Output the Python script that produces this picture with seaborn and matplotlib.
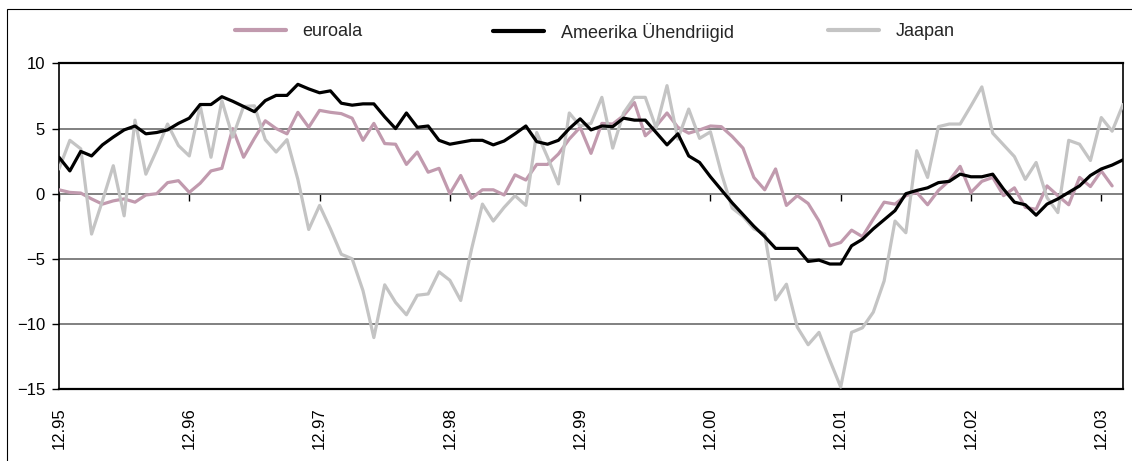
import pandas as pd
import matplotlib.pyplot as plt
from matplotlib.lines import Line2D
from matplotlib.patches import Rectangle
import seaborn as sns

# kuised väärtused, 12.95 ... 02.04
euroala = [0.3, 0.1, 0.05, -0.4, -0.8, -0.55, -0.4, -0.65, -0.1, 0.0,
           0.85, 1.0, 0.1, 0.8, 1.75, 1.95, 5.0, 2.8, 4.25, 5.6,
           5.0, 4.6, 6.25, 5.1, 6.4, 6.25, 6.15, 5.8, 4.1, 5.4,
           3.85, 3.8, 2.25, 3.2, 1.65, 1.95, 0.0, 1.4, -0.35, 0.3,
           0.3, -0.1, 1.45, 1.05, 2.25, 2.25, 3.05, 4.2, 5.1, 3.1,
           5.4, 5.35, 6.0, 7.0, 4.45, 5.2, 6.2, 5.1, 4.65, 4.9,
           5.2, 5.15, 4.4, 3.5, 1.25, 0.3, 1.9, -0.9, -0.15, -0.75,
           -2.1, -4.0, -3.75, -2.8, -3.3, -1.95, -0.65, -0.8, -0.15, 0.1,
           -0.85, 0.25, 1.0, 2.1, 0.1, 0.95, 1.25, -0.15, 0.45, -1.05,
           -1.2, 0.6, -0.15, -0.85, 1.25, 0.55, 1.75, 0.6]

usa = [2.8, 1.75, 3.25, 2.9, 3.75, 4.35, 4.9, 5.2, 4.6, 4.7,
       4.9, 5.4, 5.8, 6.85, 6.85, 7.45, 7.1, 6.7, 6.3, 7.15,
       7.55, 7.55, 8.4, 8.05, 7.75, 7.9, 6.95, 6.8, 6.9, 6.9,
       5.9, 5.0, 6.2, 5.1, 5.2, 4.1, 3.8, 3.95, 4.1, 4.1,
       3.75, 4.05, 4.6, 5.2, 4.0, 3.8, 4.1, 5.0, 5.75, 4.9,
       5.2, 5.15, 5.8, 5.65, 5.65, 4.7, 3.75, 4.6, 2.9, 2.4,
       1.3, 0.3, -0.7, -1.6, -2.5, -3.3, -4.2, -4.2, -4.2, -5.2,
       -5.1, -5.4, -5.4, -4.0, -3.5, -2.7, -2.0, -1.3, 0.0, 0.25,
       0.45, 0.85, 0.95, 1.5, 1.3, 1.3, 1.5, 0.35, -0.65, -0.85,
       -1.65, -0.8, -0.4, 0.1, 0.6, 1.4, 1.9, 2.2, 2.6]

jaapan = [1.9, 4.1, 3.45, -3.1, -0.55, 2.15, -1.7, 5.65, 1.5, 3.35,
          5.35, 3.7, 2.9, 6.75, 2.8, 7.15, 4.35, 6.7, 6.75, 4.15,
          3.2, 4.15, 1.1, -2.75, -0.9, -2.7, -4.65, -5.0, -7.45, -11.05,
          -7.0, -8.35, -9.3, -7.8, -7.7, -6.0, -6.65, -8.2, -4.25, -0.8,
          -2.1, -1.05, -0.15, -0.9, 4.7, 2.8, 0.75, 6.2, 5.2, 5.4,
          7.4, 3.5, 6.2, 7.4, 7.4, 5.05, 8.3, 4.2, 6.5, 4.25,
          4.75, 1.6, -1.1, -1.75, -2.7, -3.1, -8.15, -6.95, -10.25, -11.6,
          -10.65, -12.8, -14.85, -10.65, -10.3, -9.1, -6.7, -2.1, -3.0, 3.3,
          1.25, 5.15, 5.35, 5.35, 6.75, 8.2, 4.65, 3.75, 2.85, 1.1,
          2.4, -0.3, -1.45, 4.1, 3.8, 2.55, 5.85, 4.8, 6.85]

aasta_sildid = ['12.95', '12.96', '12.97', '12.98', '12.99',
                '12.00', '12.01', '12.02', '12.03']

nimed = ['euroala', 'Ameerika Ühendriigid', 'Jaapan']
varvid = ['#c19aae', '#000000', '#c4c4c4']

kuud = list(range(len(usa)))
aasta_kohad = kuud[::12]

sns.set_style('white')
plt.rcParams['font.family'] = ['Liberation Sans', 'DejaVu Sans']

fig = plt.figure(figsize=(11.32, 4.61), dpi=100)
ax = fig.add_axes([59 / 1132, 1 - 389 / 461, (1123 - 59) / 1132, (389 - 63.5) / 461])

# joonistamise järjekord: euroala, Jaapan, USA peal
sns.lineplot(x=kuud[:len(euroala)], y=euroala, color=varvid[0], linewidth=2.3, ax=ax, zorder=3)
sns.lineplot(x=kuud, y=jaapan, color=varvid[2], linewidth=2.3, ax=ax, zorder=4)
sns.lineplot(x=kuud, y=usa, color=varvid[1], linewidth=2.3, ax=ax, zorder=5)

ax.set_xlim(0, len(usa) - 1)
ax.set_ylim(-15, 10)
ax.set_yticks([-15, -10, -5, 0, 5, 10])
ax.set_xticks(aasta_kohad)
ax.set_xticklabels(aasta_sildid)
ax.set_xlabel('')
ax.set_ylabel('')

ax.yaxis.grid(True, color='#808080', linewidth=1.4)
ax.xaxis.grid(False)
ax.set_axisbelow(True)

for s in ['top', 'bottom']:
    ax.spines[s].set_linewidth(1.6)
for s in ['left', 'right']:
    ax.spines[s].set_linewidth(1.2)
for s in ax.spines.values():
    s.set_color('black')

ax.tick_params(axis='y', left=True, direction='out', length=5, width=1,
               color='black', pad=5, labelsize=12, labelcolor='black')
ax.tick_params(axis='x', bottom=False, length=0, pad=13, labelsize=12,
               labelrotation=90, labelcolor='black')

# aastate kriipsud nulljoonel
sek = ax.secondary_xaxis(0.6)
sek.set_xticks(aasta_kohad)
sek.xaxis.set_ticks_position('bottom')
sek.tick_params(axis='x', direction='out', length=5, width=1, color='black',
                labelbottom=False, labeltop=False)
for s in sek.spines.values():
    s.set_visible(False)

if ax.get_legend() is not None:
    ax.get_legend().remove()

# legend: iga kirje eraldi, et vahed klapiks
legendi_algus = [235, 493, 828]
for nimi, c, x0 in zip(nimed, varvid, legendi_algus):
    fig.legend([Line2D([], [], color=c, linewidth=3)], [nimi], loc='center left',
               bbox_to_anchor=(x0 / 1132, 1 - 32 / 461), frameon=False, fontsize=13,
               handlelength=2.8, handletextpad=0.95, borderpad=0, borderaxespad=0)

# diagrammi välimine raam
fig.patches.append(Rectangle((7 / 1132, -0.1), 1.2, 1.1 - 9 / 461, transform=fig.transFigure,
                             fill=False, edgecolor='black', linewidth=0.8))

fig.savefig('out.png', dpi=100)
